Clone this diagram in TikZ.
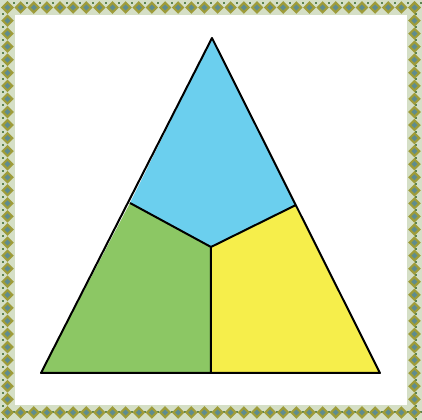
\documentclass[tikz,border=0pt]{standalone}
\usepackage{xcolor}
\definecolor{frBG}{HTML}{D5DFC6}
\definecolor{frDot}{HTML}{5E8450}
\definecolor{frOl}{HTML}{9E9C3A}
\definecolor{frIn}{HTML}{5F8C8E}
\definecolor{tBlue}{HTML}{6BCFEE}
\definecolor{tGreen}{HTML}{8CC764}
\definecolor{tYel}{HTML}{F6EE4B}
\tikzset{dia/.pic={\fill[frOl](-6.3,0)--(0,-6.3)--(6.3,0)--(0,6.3)--cycle;
  \fill[frIn](-3,0)--(0,-3)--(3,0)--(0,3)--cycle;},
  part/.style={draw=black,line width=2pt,line join=round}}
\begin{document}
\begin{tikzpicture}[x=1pt,y=-1pt]
% frame
\fill[frBG](0,0)rectangle(422,420);
\foreach \i in {0,...,31}{
  \pgfmathsetmacro\px{7.5+\i*13.13}\pgfmathsetmacro\py{7.5+\i*13.06}
  \fill[frDot](\px+5.5,2)rectangle +(2,2);\fill[frDot](\px+5.5,411)rectangle +(2,2);
  \fill[frDot](2,\py+5.5)rectangle +(2,2);\fill[frDot](415,\py+5.5)rectangle +(2,2);
  \pic at (\px,7.5){dia};\pic at (\px,412.5){dia};
  \pic at (7.5,\py){dia};\pic at (414.5,\py){dia};}
\fill[white](15,15)rectangle(407,405);
% triangle
\coordinate (top) at (212,38);\coordinate (bl) at (41,373);\coordinate (br) at (380,373);
\coordinate (ml) at (130,203);\coordinate (mr) at (296,205);\coordinate (mc) at (211,247);
\coordinate (mb) at (211,373);
\fill[tBlue](top)--(mr)--(mc)--(ml)--cycle;
\fill[tGreen](ml)--(mc)--(mb)--(bl)--cycle;
\fill[tYel](mc)--(mr)--(br)--(mb)--cycle;
\draw[part](top)--(br)--(bl)--cycle;
\draw[part](ml)--(mc)--(mr)(mc)--(mb);
\end{tikzpicture}
\end{document}
